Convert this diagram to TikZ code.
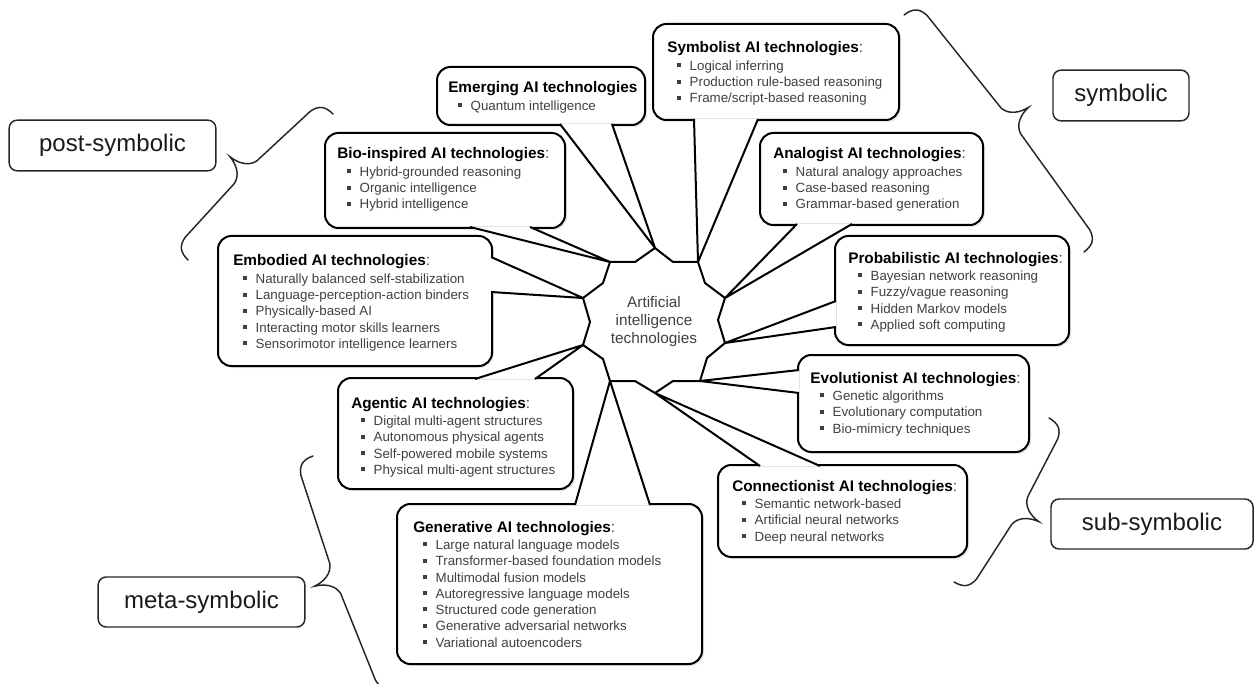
\documentclass[tikz,border=0pt]{standalone}
\usepackage{fontspec}
\setmainfont{Liberation Sans}
\usetikzlibrary{shadows}
\definecolor{bodyc}{RGB}{64,64,64}
\definecolor{labc}{RGB}{26,26,26}
\newcommand{\bul}{\raisebox{0.24em}{\rule{0.3em}{0.3em}}}
\newcommand{\ttl}[2][:]{\hbox{\fontsize{11.5}{12}\selectfont\bfseries #2\mdseries\color{bodyc}#1}\vskip0.9pt}
\newcommand{\itm}[1]{\hbox{\fontsize{10}{12}\selectfont\color{bodyc}\kern7.5pt\bul\kern6.3pt #1}}
\newcommand{\blk}[1]{\vtop{\baselineskip=12.2pt\lineskiplimit=-100pt\lineskip=0pt #1}}
% callout: #1 nw corner, #2 se corner, #3 base1, #4 tip, #5 base2
\newcommand{\callout}[5]{%
  \draw[callbox] (#1) rectangle (#2);
  \fill[white] (#3) -- (#4) -- (#5) -- cycle;
  \draw[tailline] (#3) -- (#4) -- (#5);
}
% brace: #1 start point, #2 rotation, #3 chord length
\newcommand{\brc}[3]{%
  \begin{scope}[shift={(#1)}, rotate=#2]
  \draw[braceline] (0,0) .. controls (0,10) and (3,16) .. (14,18)
    -- ({#3/2-16},21) .. controls ({#3/2-6},23) and ({#3/2-1},33) .. ({#3/2},43)
    .. controls ({#3/2+1},33) and ({#3/2+6},23) .. ({#3/2+16},21)
    -- ({#3-14},18) .. controls ({#3-3},16) and (#3,10) .. (#3,0);
  \end{scope}}
\tikzset{
  callbox/.style={draw=black, fill=white, line width=1.5pt, rounded corners=10pt,
    drop shadow={shadow xshift=1.5pt, shadow yshift=-1.5pt, opacity=0.18, fill=black!50}},
  tailline/.style={draw=black, line width=1.5pt},
  braceline/.style={draw=black!85, line width=1.1pt, line cap=round},
  core/.style={draw=black, fill=white, line width=1.5pt, line join=miter},
  txt/.style={anchor=base west, inner sep=0pt},
  lab/.style={draw=black!85, line width=1.1pt, rounded corners=6pt, inner sep=0pt,
    font=\fontsize{18}{20}\selectfont, text=labc},
}
\begin{document}
\begin{tikzpicture}[x=0.75pt, y=-0.75pt]
\useasboundingbox (0,0) rectangle (1256,684);
\clip (0,0) rectangle (1256,684);
\fill[white] (0,0) rectangle (1256,684);

% vertices of the central polygon
\coordinate (v1) at (610,262);
\coordinate (v2) at (635,262);
\coordinate (v3) at (655,248);
\coordinate (v4) at (673,262);
\coordinate (v5) at (698,262);
\coordinate (v6) at (705,283);
\coordinate (v7) at (725,298);
\coordinate (v8) at (718,320);
\coordinate (v9) at (725,343);
\coordinate (v10) at (707,358);
\coordinate (v11) at (700,381);
\coordinate (v12) at (673,381);
\coordinate (v13) at (655,393);
\coordinate (v14) at (635,381);
\coordinate (v15) at (610,381);
\coordinate (v16) at (603,359);
\coordinate (v17) at (583,345);
\coordinate (v18) at (590,322);
\coordinate (v19) at (583,298);
\coordinate (v20) at (603,283);

% callouts
\callout{437,67}{645,125}{560,124}{v3}{612,124}
\callout{653,24}{899,120}{694,119}{v5}{758,119}
\callout{325,133}{565,228}{470,227}{v1}{530,227}
\callout{760,133}{983,225}{797,224}{v7}{852,224}
\callout{218,236}{492,366}{491,257}{v19}{491,292}
\callout{835,236}{1069,345}{836,301}{v9}{836,327}
\callout{338,378}{573,489}{475,379}{v17}{535,379}
\callout{798,355}{1029,452}{799,370}{v11}{799,393}
\callout{397,504}{702,664}{575,505}{v15}{650,505}
\callout{718,465}{967,557}{760,466}{v13}{820,466}

% callout texts
\node[txt] (emT) at (448,93) {\blk{\ttl[]{Emerging AI technologies}\itm{Quantum intelligence}}};
\node[txt] (syT) at (667,53) {\blk{\ttl{Symbolist AI technologies}\itm{Logical inferring}\itm{Production rule-based reasoning}\itm{Frame/script-based reasoning}}};
\node[txt] (biT) at (337,159) {\blk{\ttl{Bio-inspired AI technologies}\itm{Hybrid-grounded reasoning}\itm{Organic intelligence}\itm{Hybrid intelligence}}};
\node[txt] (anT) at (773,159) {\blk{\ttl{Analogist AI technologies}\itm{Natural analogy approaches}\itm{Case-based reasoning}\itm{Grammar-based generation}}};
\node[txt] (ebT) at (233,266) {\blk{\ttl{Embodied AI technologies}\itm{Naturally balanced self-stabilization}\itm{Language-perception-action binders}\itm{Physically-based AI}\itm{Interacting motor skills learners}\itm{Sensorimotor intelligence learners}}};
\node[txt] (prT) at (848,263) {\blk{\ttl{Probabilistic AI technologies}\itm{Bayesian network reasoning}\itm{Fuzzy/vague reasoning}\itm{Hidden Markov models}\itm{Applied soft computing}}};
\node[txt] (agT) at (351,408) {\blk{\ttl{Agentic AI technologies}\itm{Digital multi-agent structures}\itm{Autonomous physical agents}\itm{Self-powered mobile systems}\itm{Physical multi-agent structures}}};
\node[txt] (evT) at (810,383) {\blk{\ttl{Evolutionist AI technologies}\itm{Genetic algorithms}\itm{Evolutionary computation}\itm{Bio-mimicry techniques}}};
\node[txt] (coT) at (732,491) {\blk{\ttl{Connectionist AI technologies}\itm{Semantic network-based}\itm{Artificial neural networks}\itm{Deep neural networks}}};
\node[txt] (geT) at (413,532) {\blk{\ttl{Generative AI technologies}\itm{Large natural language models}\itm{Transformer-based foundation models}\itm{Multimodal fusion models}\itm{Autoregressive language models}\itm{Structured code generation}\itm{Generative adversarial networks}\itm{Variational autoencoders}}};

% central polygon
\draw[core] (v1) -- (v2) -- (v3) -- (v4) -- (v5) -- (v6) -- (v7) -- (v8) -- (v9) -- (v10)
  -- (v11) -- (v12) -- (v13) -- (v14) -- (v15) -- (v16) -- (v17) -- (v18) -- (v19) -- (v20) -- cycle;
\node[align=center, inner sep=0pt, text=bodyc, font=\fontsize{11.5}{13.5}\selectfont] (core) at (654,322) {Artificial\\intelligence\\technologies};

% braces
\brc{333,114}{-134.8}{205.8}
\brc{1084,252}{127.2}{297.6}
\brc{954,582}{59.9}{189.5}
\brc{313,456}{-70}{245.8}

% labels
\node[lab, minimum width=155pt, minimum height=38pt] (post) at (112.5,145.5) {post-symbolic};
\node[lab, minimum width=102pt, minimum height=38pt] (symb) at (1121,95.5) {symbolic};
\node[lab, minimum width=151.5pt, minimum height=37.5pt] (subs) at (1152,524) {sub-symbolic};
\node[lab, minimum width=155pt, minimum height=37.5pt] (meta) at (201.5,602) {meta-symbolic};
\end{tikzpicture}
\end{document}
